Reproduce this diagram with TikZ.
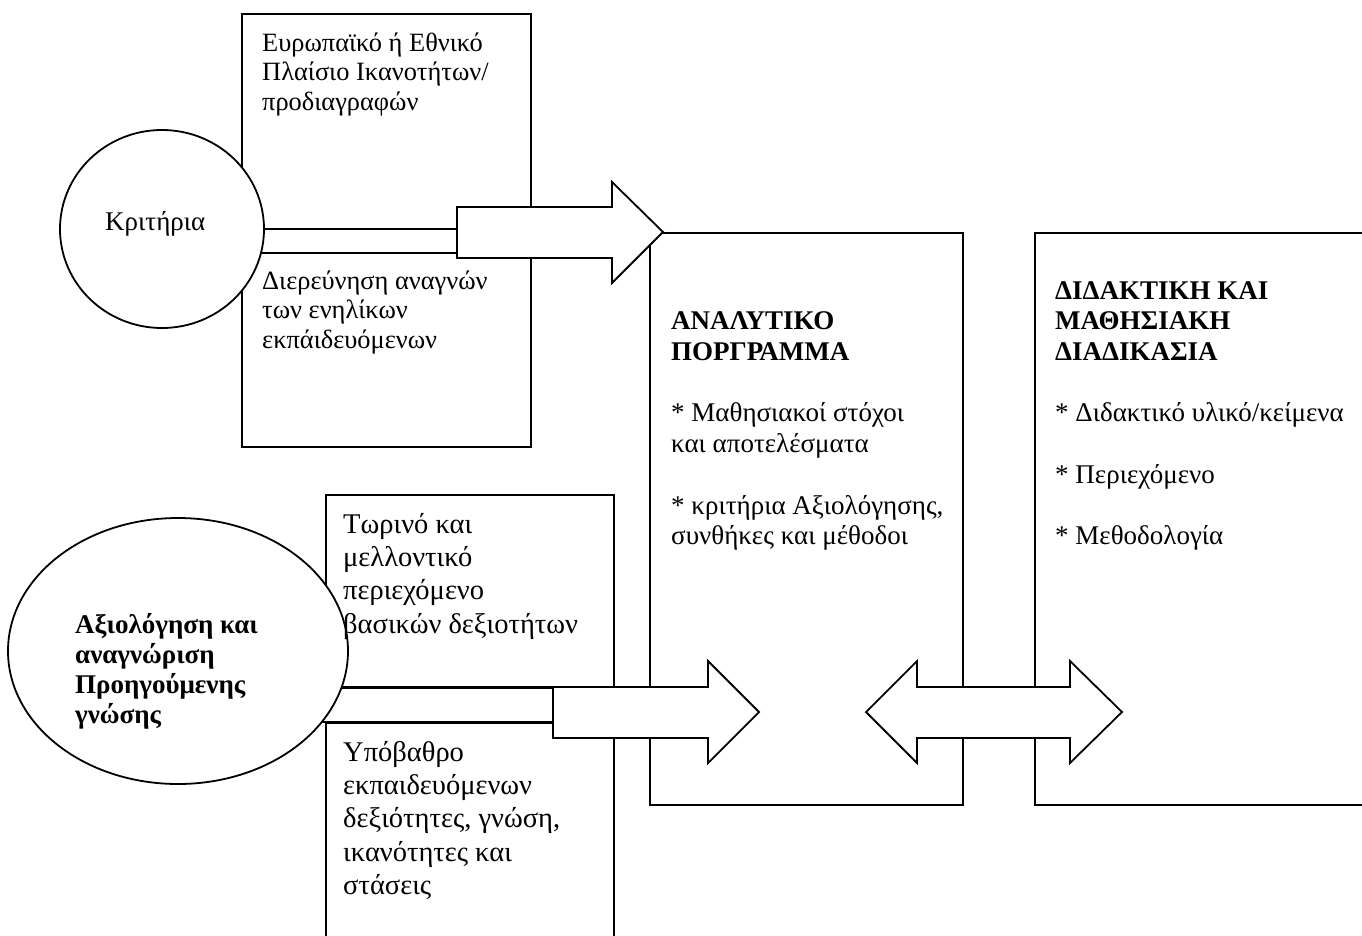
\documentclass[tikz,border=0pt]{standalone}
\usepackage{fontspec}
\setmainfont{Liberation Serif}
\usetikzlibrary{shapes.geometric, positioning}
\tikzstyle{panel} = [rectangle, draw=black, line width=1.8pt, inner sep=0pt, anchor=north west]
\tikzstyle{source} = [ellipse, draw=black, fill=white, line width=1.8pt, inner sep=0pt]
\tikzstyle{wire} = [draw=black, line width=1.8pt]
\tikzstyle{blockarrow} = [draw=black, fill=white, line width=1.8pt, line join=miter]
\tikzstyle{txt} = [align=left, inner sep=0pt, anchor=north west, font=\fontsize{26.4}{29.8}\selectfont]
\tikzstyle{progtxt} = [align=left, inner sep=0pt, anchor=north west, font=\fontsize{27}{30.7}\selectfont]
\tikzstyle{bigtxt} = [align=left, inner sep=0pt, anchor=north west, font=\fontsize{28.5}{33.3}\selectfont]
\tikzstyle{boldtxt} = [align=left, inner sep=0pt, anchor=north west, font=\fontsize{27}{30.7}\selectfont\bfseries]

\begin{document}
\begin{tikzpicture}[x=1pt, y=-1pt]
    \useasboundingbox (0,0) rectangle (1362,935);
    \clip (0,0) rectangle (1362,935);
    % frames
    \node (frame) [panel, minimum width=289pt, minimum height=433pt] at (241,13) {};
    \node (prog) [panel, minimum width=313pt, minimum height=572pt] at (649,232) {};
    \node (didact) [panel, minimum width=400pt, minimum height=572pt] at (1034,232) {};
    \node (skills) [panel, minimum width=288pt, minimum height=193pt] at (325,494) {};
    \node (backg) [panel, minimum width=288pt, minimum height=260pt] at (325,722) {};
    % lines into the arrows
    \coordinate (in1) at (457,232);
    \coordinate (in2) at (553,712);
    \draw [wire] (162,229) -- (in1 |- 0,229);
    \draw [wire] (162,253) -- (in1 |- 0,253);
    \draw [wire] (178,687) -- (in2 |- 0,687);
    \draw [wire] (178,722) -- (in2 |- 0,722);
    % sources
    \node (crit) [source, minimum width=204pt, minimum height=198pt] at (162,229) {};
    \node (prior) [source, minimum width=340pt, minimum height=266pt] at (178,651) {};
    \node (critlabel) [progtxt] at (105,208.5) {\strut Κριτήρια};
    \node (priorlabel) [boldtxt, font=\fontsize{27}{30}\selectfont\bfseries] at (75,612) {\strut Αξιολόγηση και\\αναγνώριση\\Προηγούμενης\\γνώσης};
    % texts in the frames
    \node (eu) [txt] at (262,30) {\strut Ευρωπαϊκό ή Εθνικό\\Πλαίσιο Ικανοτήτων/\\προδιαγραφών};
    \node (needs) [txt] at (262,268) {\strut Διερεύνηση αναγνών\\των ενηλίκων\\εκπάιδευόμενων};
    \node (progtitle) [boldtxt] at (671,308.2) {\strut ΑΝΑΛΥΤΙΚΟ\\ΠΟΡΓΡΑΜΜΑ};
    \node (goals) [progtxt] at (671,400.3) {\strut * Μαθησιακοί στόχοι\\και αποτελέσματα};
    \node (crits) [progtxt] at (671,492.4) {\strut * κριτήρια Αξιολόγησης,\\συνθήκες και μέθοδοι};
    \node (didtitle) [boldtxt] at (1055,277.5) {\strut ΔΙΔΑΚΤΙΚΗ ΚΑΙ\\ΜΑΘΗΣΙΑΚΗ\\ΔΙΑΔΙΚΑΣΙΑ};
    \node (mat) [progtxt] at (1055,400.3) {\strut * Διδακτικό υλικό/κείμενα};
    \node (cont) [progtxt] at (1055,461.7) {\strut * Περιεχόμενο};
    \node (meth) [progtxt] at (1055,523.1) {\strut * Μεθοδολογία};
    \node (now) [bigtxt] at (343,509.7) {\strut Τωρινό και\\μελλοντικό\\περιεχόμενο\\βασικών δεξιοτήτων};
    \node (learner) [bigtxt] at (343,737.7) {\strut Υπόβαθρο\\εκπαιδευόμενων\\δεξιότητες, γνώση,\\ικανότητες και\\στάσεις};
    % block arrows
    \draw [blockarrow] (in1 |- 0,207) -- (612,207) -- (612,182) -- (663,232) -- (612,283) -- (612,258) -- (in1 |- 0,258) -- cycle;
    \draw [blockarrow] (in2 |- 0,687) -- (708,687) -- (708,661) -- (759,712) -- (708,763) -- (708,738) -- (in2 |- 0,738) -- cycle;
    \draw [blockarrow] (866,712) -- (917,661) -- (917,687) -- (1070,687) -- (1070,661) -- (1122,712) -- (1070,763) -- (1070,738) -- (917,738) -- (917,763) -- cycle;
\end{tikzpicture}
\end{document}
